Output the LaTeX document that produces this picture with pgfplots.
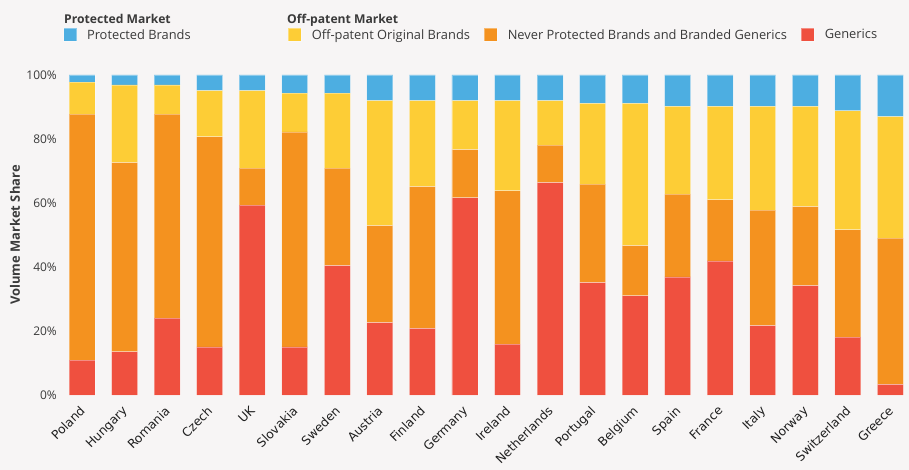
\documentclass[border=0pt]{standalone}
\usepackage{fontspec}
\setmainfont{Open Sans}
\newfontfamily\labfont{DejaVu Sans}
\usepackage{pgfplots}
\usepackage{pgfplotstable}
\pgfplotsset{compat=1.18}
\pgfplotsset{sqleg/.style={legend image code/.code={\fill[##1] (0bp,-6.5bp) rectangle (13bp,6.5bp);}}}
\definecolor{bg}{HTML}{F7F5F5}
\definecolor{cBlue}{HTML}{4DAEE1}
\definecolor{cYellow}{HTML}{FDCD36}
\definecolor{cOrange}{HTML}{F4921F}
\definecolor{cRed}{HTML}{EF503F}
\definecolor{txt}{HTML}{3A3A3A}
\pgfplotstableread{
x G N O P
0 10.9 76.9 10.0 2.2
1 13.5 59.1 24.3 3.1
2 24.0 63.8 9.1 3.1
3 15.0 65.7 14.4 4.9
4 59.3 11.6 24.2 4.9
5 15.0 67.2 12.1 5.7
6 40.4 30.5 23.4 5.7
7 22.6 30.3 39.1 8.0
8 20.8 44.3 26.9 8.0
9 61.6 15.1 15.3 8.0
10 15.9 47.9 28.2 8.0
11 66.4 11.7 13.9 8.0
12 35.1 30.8 25.2 8.9
13 31.0 15.7 44.4 8.9
14 36.9 25.9 27.4 9.8
15 41.9 19.1 29.2 9.8
16 21.7 36.1 32.4 9.8
17 34.2 24.7 31.3 9.8
18 18.1 33.5 37.2 11.2
19 3.3 45.7 38.0 13.0
}\datatable
\begin{document}
\begin{tikzpicture}
\fill[bg] (0,0) rectangle (909bp,470bp);
\begin{axis}[
  at={(62bp,75bp)}, anchor=south west,
  scale only axis, width=845bp, height=320bp,
  ybar stacked, bar width=0.61,
  xmin=-0.47, xmax=19.39, ymin=0, ymax=100,
  clip=false,
  axis line style={draw=none},
  major tick length=0pt,
  ytick={0,20,40,60,80,100},
  yticklabel={\pgfmathprintnumber{\tick}\%},
  xtick={0,...,19},
  xticklabels={Poland,Hungary,Romania,Czech,UK,Slovakia,Sweden,Austria,Finland,Germany,Ireland,Netherlands,Portugal,Belgium,Spain,France,Italy,Norway,Switzerland,Greece},
  /pgf/number format/assume math mode=true,
  yticklabel style={font=\fontsize{12}{14}\selectfont, text=txt, inner sep=0pt, xshift=-5bp},
  xticklabel style={xshift=-3bp, yshift=-10bp, font=\labfont\fontsize{12.3}{14}\selectfont, text=black!88, rotate=45, anchor=north east, inner sep=0pt},
  ylabel={\fontsize{13}{15}\selectfont\bfseries Volume Market Share},
  every axis y label/.style={at={(axis description cs:-0.0556,0.5)}, rotate=90, anchor=center, text=txt},
  legend columns=4,
  reverse legend,
  legend style={draw=none, fill=none, inner sep=0pt,
    at={(axis description cs:0.0012,1.125)}, anchor=west,
    font=\fontsize{12.9}{14}\selectfont, text=txt,
    nodes={inner xsep=0pt},
    /tikz/every odd column/.append style={column sep=10bp},
    /tikz/every even column/.append style={column sep=14bp}},
  legend cell align=left,
]
\addplot[fill=cRed, draw=white, draw opacity=0.35, line width=0.8bp, sqleg] table[x=x, y=G] {\datatable};
\addlegendentry{Generics}
\addplot[fill=cOrange, draw=white, draw opacity=0.35, line width=0.8bp, sqleg] table[x=x, y=N] {\datatable};
\addlegendentry{Never Protected Brands and Branded Generics}
\addplot[fill=cYellow, draw=white, draw opacity=0.35, line width=0.8bp, sqleg] table[x=x, y=O] {\datatable};
\addlegendentry{Off-patent Original Brands}
\addplot[fill=cBlue, draw=white, draw opacity=0.35, line width=0.8bp, sqleg] table[x=x, y=P] {\datatable};
\addlegendentry{\makebox[187bp][l]{Protected Brands}}
\end{axis}
\node[anchor=base west, font=\bfseries\fontsize{12.2}{14}\selectfont, text=txt, inner sep=0pt] at (64bp,446bp) {Protected Market};
\node[anchor=base west, font=\bfseries\fontsize{12.2}{14}\selectfont, text=txt, inner sep=0pt] at (287bp,446bp) {Off-patent Market};
\end{tikzpicture}
\end{document}
